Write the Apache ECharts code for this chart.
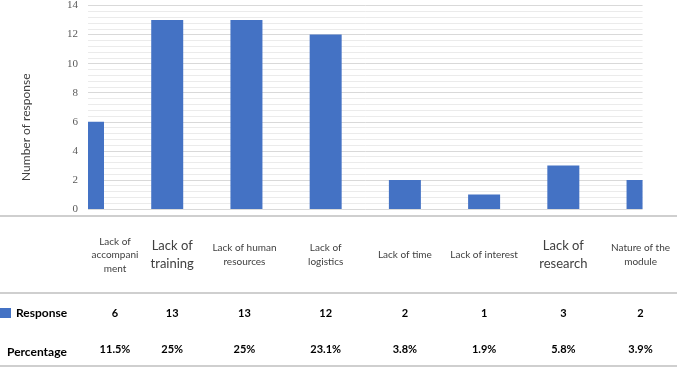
<!DOCTYPE html>
<html>
<head>
<meta charset="utf-8">
<script src="https://cdn.jsdelivr.net/npm/echarts@6/dist/echarts.min.js"></script>
<style>html,body{margin:0;padding:0;background:#fff}#c{width:677px;height:368px}</style>
</head>
<body>
<div id="c"></div>
<script>
const categories = ['Lack of\naccompani\nment', 'Lack of\ntraining', 'Lack of human\nresources', 'Lack of\nlogistics', 'Lack of time', 'Lack of interest', 'Lack of\nresearch', 'Nature of the\nmodule'];
const responses = [6, 13, 13, 12, 2, 1, 3, 2];
const percentages = [11.5, 25, 25, 23.1, 3.8, 1.9, 5.8, 3.9];
const largeLabels = ['Lack of\ntraining', 'Lack of\nresearch'];
const yMax = 14, yStep = 2;

// layout: horizontal shift of data table columns (px, doubled as left padding)
const colShift = [27, 5, -2, 0, 0, 0, 0, -2];
const font = 'Lato, "Open Sans", sans-serif';
const BAR_W = 32;

const richCat = {}, richVal = {};
categories.forEach((c, i) => {
  const p = colShift[i] * 2;
  const pad = p >= 0 ? [0, 0, 0, p] : [0, -p, 0, 0];
  richCat['s' + i] = { fontSize: 10, lineHeight: 13.5, color: '#404040', fontFamily: font, padding: pad };
  richCat['b' + i] = { fontSize: 13, lineHeight: 17.5, color: '#404040', fontFamily: font, padding: pad };
  richVal['v' + i] = { fontSize: 11, fontWeight: 'bold', color: '#000', fontFamily: font, padding: pad };
});

function catFmt(value, idx) {
  const k = (largeLabels.indexOf(value) >= 0 ? 'b' : 's') + idx;
  return value.split('\n').map(l => '{' + k + '|' + l + '}').join('\n');
}
function valFmt(value, idx) { return '{v' + idx + '|' + value + '}'; }

function renderBar(params, api) {
  const top = api.coord([api.value(0), api.value(1)]);
  const base = api.coord([api.value(0), 0]);
  const rect = echarts.graphic.clipRectByRect(
    { x: top[0] - BAR_W / 2, y: top[1], width: BAR_W, height: base[1] - top[1] },
    { x: params.coordSys.x, y: params.coordSys.y, width: params.coordSys.width, height: params.coordSys.height }
  );
  return rect && { type: 'rect', shape: rect, style: { fill: '#4472c4' } };
}

const hiddenAxis = { show: false };
const chart = echarts.init(document.getElementById('c'));
chart.setOption({
  animation: false,
  grid: { left: 88, right: 34, top: 3, bottom: 159 },
  legend: {
    data: ['Response'], left: 0, top: 307, padding: 0, itemWidth: 11, itemHeight: 10, icon: 'rect',
    itemStyle: { color: '#4472c4' },
    textStyle: { fontWeight: 'bold', fontSize: 12, color: '#000', fontFamily: font }
  },
  title: { text: 'Percentage', left: 2, top: 341, textStyle: { fontWeight: 'bold', fontSize: 12, color: '#000', fontFamily: font } },
  xAxis: [
    {
      type: 'category', data: categories, boundaryGap: false, position: 'bottom',
      axisLine: hiddenAxis, axisTick: hiddenAxis,
      axisLabel: { interval: 0, margin: 46, verticalAlign: 'middle', formatter: catFmt, rich: richCat }
    },
    {
      type: 'category', data: responses.map(String), boundaryGap: false, position: 'bottom',
      axisLine: hiddenAxis, axisTick: hiddenAxis,
      axisLabel: { interval: 0, margin: 104, verticalAlign: 'middle', formatter: valFmt, rich: richVal }
    },
    {
      type: 'category', data: percentages.map(v => v + '%'), boundaryGap: false, position: 'bottom',
      axisLine: hiddenAxis, axisTick: hiddenAxis,
      axisLabel: { interval: 0, margin: 140, verticalAlign: 'middle', formatter: valFmt, rich: richVal }
    }
  ],
  yAxis: {
    type: 'value', min: 0, max: yMax, interval: yStep,
    name: 'Number of response', nameLocation: 'middle', nameGap: 56, nameRotate: 90,
    nameTextStyle: { fontSize: 12, color: '#404040', fontFamily: font, padding: [0, 40, 0, 0] },
    axisLine: hiddenAxis, axisTick: hiddenAxis,
    axisLabel: { margin: 10, fontSize: 11, color: '#595959', fontFamily: '"Liberation Serif", serif' },
    splitLine: { lineStyle: { color: '#d9d9d9', width: 1 } },
    minorTick: { show: false, splitNumber: 5 },
    minorSplitLine: { show: true, lineStyle: { color: '#ebebeb', width: 1 } }
  },
  series: [{
    name: 'Response', type: 'custom', renderItem: renderBar, clip: true,
    encode: { x: 0, y: 1 },
    data: responses.map((v, i) => [i, v]),
    itemStyle: { color: '#4472c4' }
  }],
  graphic: [
    { type: 'line', shape: { x1: 0, y1: 216, x2: 677, y2: 216 }, style: { stroke: '#bfbfbf', lineWidth: 1.5 } },
    { type: 'line', shape: { x1: 0, y1: 293, x2: 677, y2: 293 }, style: { stroke: '#bfbfbf', lineWidth: 1.5 } },
    { type: 'line', shape: { x1: 0, y1: 366, x2: 677, y2: 366 }, style: { stroke: '#bfbfbf', lineWidth: 1.5 } }
  ]
});
</script>
</body>
</html>
